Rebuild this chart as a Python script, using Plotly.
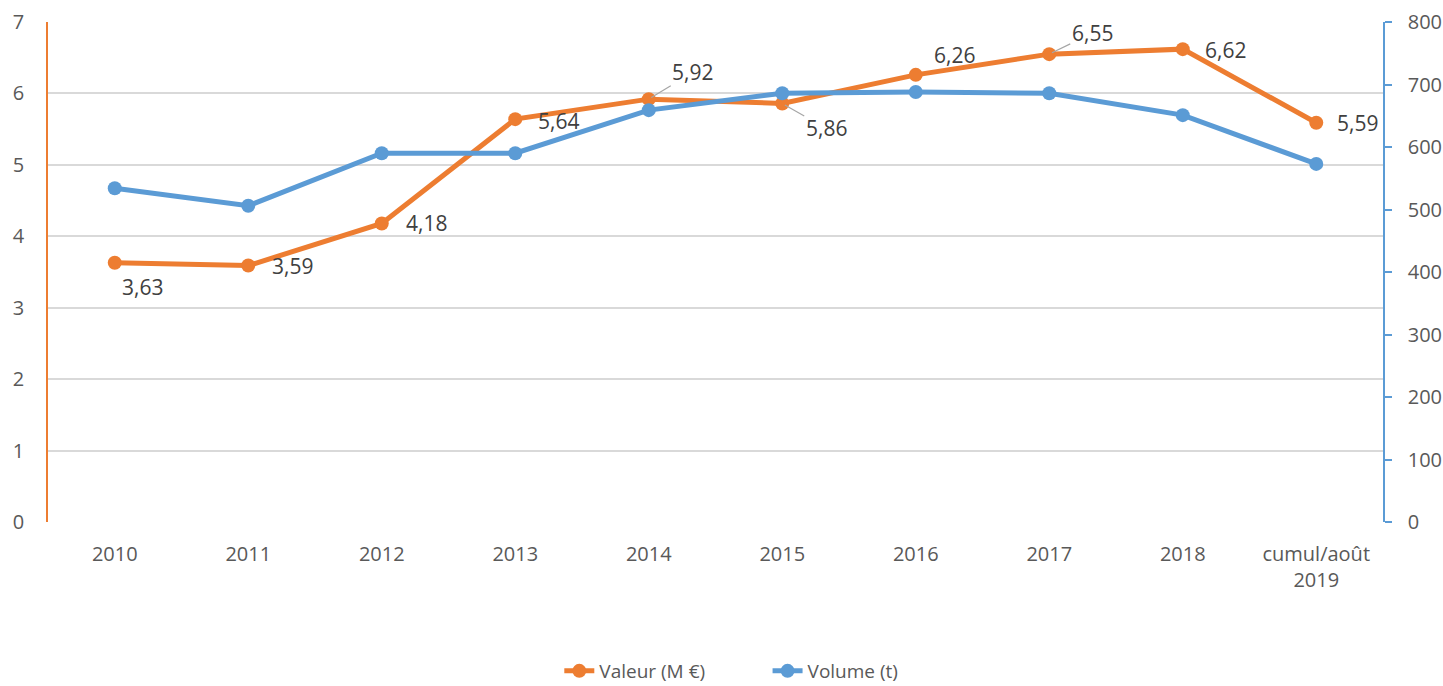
import plotly.graph_objects as go

categories = ["2010", "2011", "2012", "2013", "2014", "2015", "2016", "2017", "2018", "cumul/août<br>2019"]
valeur = [3.63, 3.59, 4.18, 5.64, 5.92, 5.86, 6.26, 6.55, 6.62, 5.59]
volume = [534, 506, 590, 590, 659, 686, 688, 686, 651, 573]
labels = ["3,63", "3,59", "4,18", "5,64", "5,92", "5,86", "6,26", "6,55", "6,62", "5,59"]

ORANGE = "#ED7D31"
BLUE = "#5B9BD5"
FONT = "Open Sans"

fig = go.Figure()
fig.add_trace(go.Scatter(x=categories, y=volume, name="Volume (t)", mode="lines+markers",
                         line=dict(color=BLUE, width=5), marker=dict(size=14, color=BLUE),
                         yaxis="y2", legend="legend2"))
fig.add_trace(go.Scatter(x=categories, y=valeur, name="Valeur (M €)", mode="lines+markers",
                         line=dict(color=ORANGE, width=5), marker=dict(size=14, color=ORANGE),
                         yaxis="y", legend="legend"))

# label placement (pixel offsets relative to point): (xshift, yshift, leader)
placement = [
    (5, -24, False), (22, 0, False), (22, 0, False), (21, -2, False), (0, 0, True),
    (0, 0, True), (16, 20, False), (0, 0, True), (20, -1, False), (19, 0, False),
]
leader_off = {4: (44, -27), 5: (44, 25), 7: (43, -21)}
for i, (v, t) in enumerate(zip(valeur, labels)):
    xs, ys, lead = placement[i]
    if lead:
        ax, ay = leader_off[i]
        fig.add_annotation(x=i, y=v, xref="x", yref="y", text=t, showarrow=True,
                           ax=ax, ay=ay, arrowhead=0, arrowwidth=1.2, arrowcolor="#A6A6A6",
                           standoff=3, font=dict(family=FONT, size=21, color="#404040"))
    else:
        fig.add_annotation(x=i, y=v, xref="x", yref="y", text=t, showarrow=False,
                           xanchor="left", yanchor="middle", xshift=xs, yshift=ys,
                           font=dict(family=FONT, size=21, color="#404040"))

legend_style = dict(orientation="h", y=-0.298, yanchor="middle", xanchor="left",
                    font=dict(family=FONT, size=19, color="#595959"),
                    bgcolor="rgba(0,0,0,0)")

fig.update_layout(
    width=1443, height=686,
    margin=dict(l=48, r=60, t=22, b=164, autoexpand=False),
    paper_bgcolor="white", plot_bgcolor="white",
    font=dict(family=FONT, size=20, color="#595959"),
    showlegend=True,
    legend=dict(x=0.383, **legend_style),
    legend2=dict(x=0.539, **legend_style),
    xaxis=dict(type="category", range=[-0.5, 9.5], showgrid=False, showline=False,
               zeroline=False, automargin=False,
               ticks="", ticklabelstandoff=18, tickfont=dict(size=20, color="#595959")),
    yaxis=dict(range=[0, 7], dtick=1, showgrid=True, gridcolor="#D9D9D9", gridwidth=1.5,
               showline=True, linecolor=ORANGE, linewidth=1.5, zeroline=False, automargin=False,
               ticks="", ticklabelstandoff=18, tickfont=dict(size=20, color="#595959")),
    yaxis2=dict(range=[0, 800], dtick=100, overlaying="y", side="right", showgrid=False,
                showline=True, linecolor=BLUE, linewidth=1.5, zeroline=False, automargin=False,
                ticks="outside", ticklen=7, tickcolor=BLUE, tickwidth=1.5,
                ticklabelstandoff=12, tickfont=dict(size=20, color="#595959")),
)

fig.write_html("out.html", config={"displayModeBar": False},
               post_script="document.body.style.margin='0';document.body.style.overflow='hidden';")
